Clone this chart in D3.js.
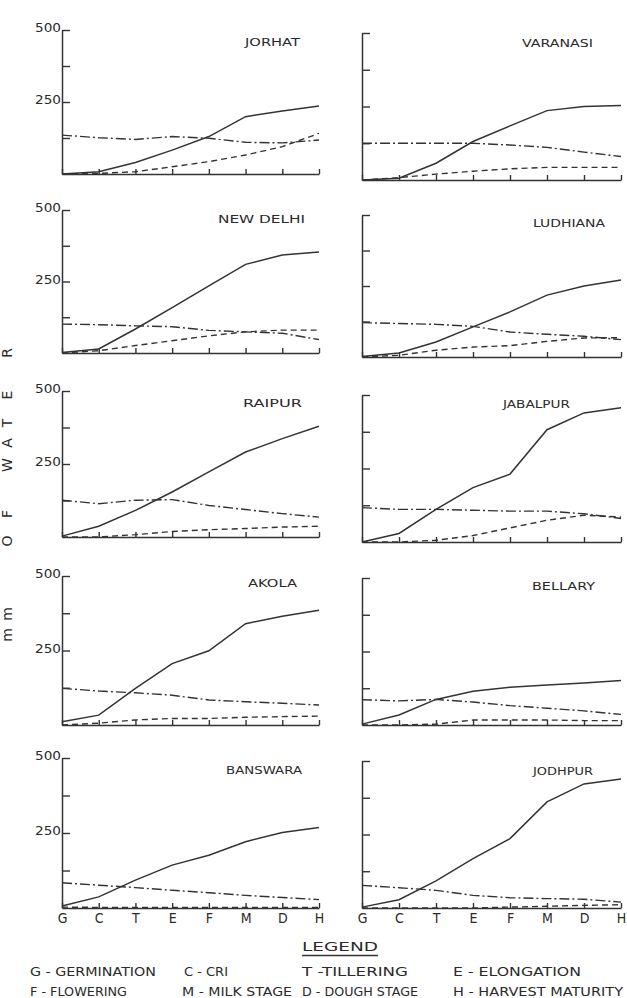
<!DOCTYPE html>
<html>
<head>
<meta charset="utf-8">
<script src="https://cdn.jsdelivr.net/npm/d3@7"></script>
<style>
  body { margin: 0; background: #fff; }
  svg { display: block; }
  text { font-family: 'DejaVu Sans', 'Liberation Sans', sans-serif; fill: #2a2a2a; }
</style>
</head>
<body>
<svg id="chart" width="627" height="998"></svg>
<script>
// crop stages on x
var stages = ['G', 'C', 'T', 'E', 'F', 'M', 'D', 'H'];
var stations = ['JORHAT', 'VARANASI', 'NEW DELHI', 'LUDHIANA', 'RAIPUR',
    'JABALPUR', 'AKOLA', 'BELLARY', 'BANSWARA', 'JODHPUR'];
var yTicks = [0, 125, 250, 375, 500];
var yLabels = [250, 500];

// mm of water, one row per station (same order as stations)
var solidLine = [
    [0, 8, 40, 83, 130, 199, 219, 236],
    [0, 6, 57, 131, 184, 236, 250, 253],
    [2, 14, 84, 159, 235, 310, 343, 353],
    [2, 14, 53, 106, 159, 218, 250, 271],
    [3, 37, 91, 154, 223, 291, 337, 379],
    [0, 29, 111, 185, 231, 382, 439, 457],
    [11, 33, 123, 206, 249, 340, 365, 385],
    [3, 34, 87, 115, 128, 136, 143, 151],
    [7, 37, 93, 143, 176, 221, 252, 268],
    [3, 28, 92, 168, 236, 361, 422, 439]
];
var dashDotLine = [
    [135, 126, 120, 130, 124, 110, 108, 118],
    [125, 125, 125, 125, 119, 111, 95, 80],
    [101, 99, 95, 92, 79, 74, 69, 47],
    [121, 118, 115, 108, 88, 80, 73, 61],
    [126, 114, 126, 128, 108, 94, 80, 68],
    [117, 111, 111, 108, 105, 105, 96, 80],
    [123, 114, 108, 100, 84, 78, 73, 67],
    [86, 82, 87, 78, 66, 57, 48, 36],
    [84, 76, 68, 59, 51, 42, 35, 28],
    [77, 69, 60, 43, 35, 32, 30, 20]
];
var dashedLine = [
    [0, 2, 8, 25, 43, 66, 95, 141],
    [0, 8, 20, 30, 38, 43, 43, 43],
    [0, 8, 26, 43, 60, 74, 80, 80],
    [0, 6, 24, 35, 40, 55, 67, 68],
    [0, 0, 8, 19, 25, 29, 34, 37],
    [0, 0, 6, 22, 48, 74, 91, 85],
    [0, 6, 17, 22, 22, 26, 28, 30],
    [0, 0, 3, 17, 17, 17, 15, 15],
    [3, 2, 2, 2, 2, 2, 2, 2],
    [0, 0, 0, 0, 3, 6, 9, 11]
];

var legendRow1 = ['G - GERMINATION', 'C - CRI', 'T -TILLERING', 'E - ELONGATION'];
var legendRow2 = ['F - FLOWERING', 'M - MILK STAGE', 'D - DOUGH STAGE', 'H - HARVEST MATURITY'];

// ---- layout (pixels) ----
var colX = [[62, 319], [362, 621]];
var rowTop = [[30, 33], [210, 215], [391, 395], [576, 578], [758, 761]];
var rowBase = [[174, 180], [353, 357], [537, 542], [725, 725], [908, 908]];
// title start x, baseline y, width
var titlePos = [
    [245, 46, 55], [522, 47, 71], [218, 223, 87], [533, 227, 72], [243, 407, 59],
    [503, 408, 67], [248, 587, 49], [532, 590, 63], [226, 774, 76], [533, 775, 60]
];
var ink = '#333';

var svg = d3.select('#chart');

stations.forEach(function (name, i) {
    var row = Math.floor(i / 2);
    var col = i % 2;

    var x = d3.scalePoint().domain(stages).range(colX[col]);
    var y = d3.scaleLinear().domain([0, 500]).range([rowBase[row][col], rowTop[row][col]]);

    var g = svg.append('g').attr('class', 'panel');

    // y axis, ticks pointing inward
    var yAxis = g.append('g')
        .attr('transform', 'translate(' + colX[col][0] + ',0)')
        .call(d3.axisRight(y).tickValues(yTicks.slice(1)).tickSize(8).tickSizeOuter(0).tickFormat(''));
    yAxis.select('.domain').attr('stroke', ink).attr('stroke-width', 1.5);
    yAxis.selectAll('.tick line').attr('stroke', ink).attr('stroke-width', 1.4);

    // x axis, ticks pointing up
    var xAxis = g.append('g')
        .attr('transform', 'translate(0,' + rowBase[row][col] + ')')
        .call(d3.axisTop(x).tickSize(5).tickSizeOuter(0).tickFormat(''));
    xAxis.select('.domain').attr('stroke', ink).attr('stroke-width', 1.5);
    xAxis.selectAll('.tick line').attr('stroke', ink).attr('stroke-width', 1.4);

    if (col == 0) {
        g.selectAll('.ylab')
            .data(yLabels)
            .enter()
            .append('text')
            .attr('x', colX[col][0] - 1)
            .attr('y', function (d) { return y(d) + 2; })
            .attr('text-anchor', 'end')
            .attr('font-size', 12)
            .attr('textLength', 26)
            .attr('lengthAdjust', 'spacingAndGlyphs')
            .text(function (d) { return d; });
    }

    if (row == 4) {
        var lab = g.append('g')
            .attr('transform', 'translate(0,' + (rowBase[row][col] + 15) + ')')
            .call(d3.axisBottom(x).tickSize(0).tickPadding(0));
        lab.select('.domain').remove();
        lab.selectAll('text')
            .attr('font-size', 14)
            .attr('dy', 0)
            .attr('fill', '#2a2a2a')
            .style('font-family', "'DejaVu Sans Condensed', 'DejaVu Sans', sans-serif");
    }

    var line = d3.line()
        .x(function (d, k) { return x(stages[k]); })
        .y(function (d) { return y(d); });

    g.append('path')
        .datum(dashedLine[i])
        .attr('d', line)
        .attr('fill', 'none')
        .attr('stroke', ink)
        .attr('stroke-width', 1.4)
        .attr('stroke-dasharray', '6,4');

    g.append('path')
        .datum(dashDotLine[i])
        .attr('d', line)
        .attr('fill', 'none')
        .attr('stroke', ink)
        .attr('stroke-width', 1.4)
        .attr('stroke-dasharray', '10,3,2,3');

    g.append('path')
        .datum(solidLine[i])
        .attr('d', line)
        .attr('fill', 'none')
        .attr('stroke', ink)
        .attr('stroke-width', 1.5);

    g.append('text')
        .attr('x', titlePos[i][0])
        .attr('y', titlePos[i][1])
        .attr('font-size', 11)
        .attr('textLength', titlePos[i][2])
        .attr('lengthAdjust', 'spacingAndGlyphs')
        .text(name);
});

// vertical axis title, letters rotated one by one
var yTitle = [['m', 635], ['m', 614], ['O', 541], ['F', 514], ['W', 465],
    ['A', 443], ['T', 423], ['E', 395], ['R', 353]];
svg.selectAll('.ytitle')
    .data(yTitle)
    .enter()
    .append('text')
    .attr('class', 'ytitle')
    .attr('transform', function (d) { return 'translate(12,' + d[1] + ') rotate(-90)'; })
    .attr('text-anchor', 'middle')
    .attr('font-size', 14)
    .text(function (d) { return d[0]; });

// legend
svg.append('text')
    .attr('x', 340)
    .attr('y', 951)
    .attr('text-anchor', 'middle')
    .attr('font-size', 13)
    .attr('textLength', 76)
    .attr('lengthAdjust', 'spacingAndGlyphs')
    .text('LEGEND');
svg.append('line')
    .attr('x1', 302).attr('x2', 378)
    .attr('y1', 955.5).attr('y2', 955.5)
    .attr('stroke', ink)
    .attr('stroke-width', 1.6);

var legX = [30, 184, 302, 453];
var legW1 = [126, 44, 106, 128];
var legW2 = [97, 110, 116, 170];

svg.selectAll('.leg1')
    .data(legendRow1)
    .enter()
    .append('text')
    .attr('x', function (d, k) { return legX[k]; })
    .attr('y', 976)
    .attr('font-size', 13)
    .attr('textLength', function (d, k) { return legW1[k]; })
    .attr('lengthAdjust', 'spacingAndGlyphs')
    .text(function (d) { return d; });

svg.selectAll('.leg2')
    .data(legendRow2)
    .enter()
    .append('text')
    .attr('x', function (d, k) { return k == 1 ? 182 : legX[k]; })
    .attr('y', 996)
    .attr('font-size', 13)
    .attr('textLength', function (d, k) { return legW2[k]; })
    .attr('lengthAdjust', 'spacingAndGlyphs')
    .text(function (d) { return d; });
</script>
</body>
</html>
